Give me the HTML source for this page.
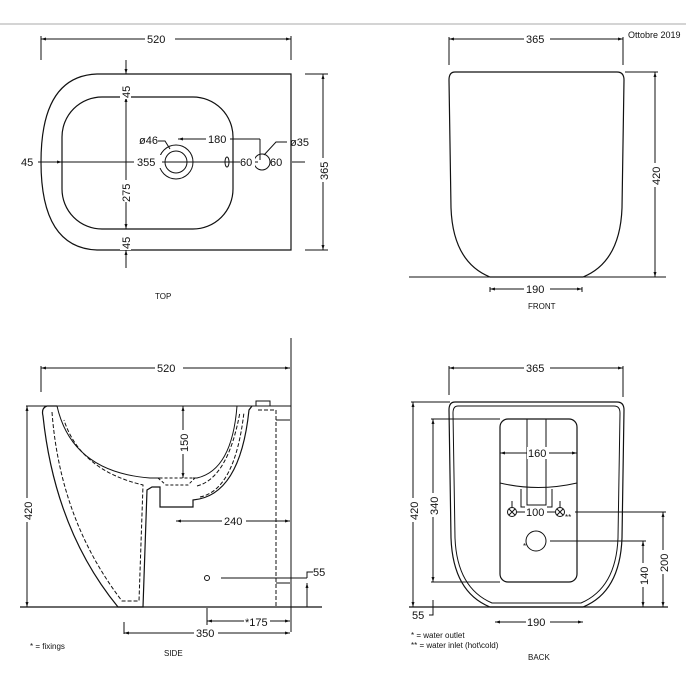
<!DOCTYPE html>
<html><head><meta charset="utf-8"><style>
html,body{margin:0;padding:0;background:#fff}
svg{display:block}
text{font-family:"Liberation Sans",sans-serif;fill:#111}
</style></head><body>
<svg width="700" height="700" viewBox="0 0 700 700" xmlns="http://www.w3.org/2000/svg">
<defs>
<marker id="a" viewBox="0 0 10 10" refX="10" refY="5" markerWidth="7" markerHeight="5" orient="auto-start-reverse"><path d="M0,2 L10,5 L0,8z" fill="#111"/></marker>
</defs>
<line x1="0" y1="24" x2="686" y2="24" stroke="#aaa" stroke-width="1"/>
<text x="628" y="38" font-size="9" fill="#555">Ottobre 2019</text>

<g stroke="#111" fill="none" stroke-width="1">
<!-- TOP VIEW -->
<path d="M291,74 L97,74 Q41,76 41,162 Q41,248 97,250 L291,250 Z" stroke-width="1.2"/>
<rect x="62" y="97" width="171" height="132" rx="40" stroke-width="1.2"/>
<line x1="41" y1="39" x2="291" y2="39" marker-start="url(#a)" marker-end="url(#a)"/>
<line x1="41" y1="36" x2="41" y2="60"/><line x1="291" y1="36" x2="291" y2="60"/>
<line x1="323" y1="74" x2="323" y2="250" marker-start="url(#a)" marker-end="url(#a)"/>
<line x1="305" y1="74" x2="328" y2="74"/><line x1="305" y1="250" x2="328" y2="250"/>
<line x1="38" y1="162" x2="62" y2="162" marker-end="url(#a)"/>
<line x1="62" y1="162" x2="175" y2="162"/>
<line x1="175" y1="162" x2="258" y2="162"/>
<line x1="238" y1="162" x2="250" y2="162" marker-end="url(#a)"/>
<line x1="292" y1="162" x2="305" y2="162"/>
<line x1="126" y1="60" x2="126" y2="74" marker-end="url(#a)"/>
<line x1="126" y1="97" x2="126" y2="229" marker-start="url(#a)" marker-end="url(#a)"/>
<line x1="126" y1="268" x2="126" y2="250" marker-end="url(#a)"/>
<circle cx="176" cy="162" r="17"/><circle cx="176" cy="162" r="11"/>
<circle cx="262" cy="162" r="8"/>
<ellipse cx="227" cy="162" rx="2" ry="5"/>
<line x1="178" y1="139" x2="260" y2="139" marker-start="url(#a)"/>
<line x1="260" y1="139" x2="260" y2="160"/>
<path d="M158,141 L165,141 L170,149"/>
<path d="M287,142 L276,142 L264,155"/>

<!-- FRONT VIEW -->
<path d="M455,72 L617,72 Q624,72 624,80 L622,208 Q620,262 583,277 L490,277 Q453,262 451,208 L449,80 Q449,72 455,72 Z" stroke-width="1.2"/>
<line x1="449" y1="39" x2="623" y2="39" marker-start="url(#a)" marker-end="url(#a)"/>
<line x1="449" y1="37" x2="449" y2="65"/><line x1="623" y1="37" x2="623" y2="65"/>
<line x1="655" y1="72" x2="655" y2="277" marker-start="url(#a)" marker-end="url(#a)"/>
<line x1="625" y1="72" x2="658" y2="72"/>
<line x1="409" y1="277" x2="666" y2="277"/>
<line x1="490" y1="289" x2="582" y2="289" marker-start="url(#a)" marker-end="url(#a)"/>
<line x1="490" y1="287" x2="490" y2="292"/><line x1="582" y1="287" x2="582" y2="292"/>

<!-- SIDE VIEW -->
<line x1="41" y1="368" x2="290" y2="368" marker-start="url(#a)" marker-end="url(#a)"/>
<line x1="41" y1="366" x2="41" y2="392"/>
<line x1="291" y1="338" x2="291" y2="632"/>
<line x1="26" y1="406" x2="291" y2="406"/>
<line x1="20" y1="607" x2="322" y2="607" stroke-width="1.2"/>
<line x1="27" y1="406" x2="27" y2="607" marker-start="url(#a)" marker-end="url(#a)"/>
<path d="M57,406 L47,406 Q41,408 43,416 Q55,530 118,607 L143,607 L147,490 L152,487 L160,487 L160,507 L193,507 L193,500 Q240,496 249,410 L252,406" stroke-width="1.2"/>
<path d="M57,406 Q72,472 150,478 L160,478"/>
<path d="M193,478 L197,478 Q232,470 237,406"/>
<path d="M52,412 Q60,520 122,601 L139,601 L143,485 Q80,470 64,420" stroke-dasharray="4,2"/>
<path d="M158,478 L166,485 L188,485 L195,478 Z" stroke-dasharray="3,2"/>
<path d="M200,497 Q235,490 244,412 M197,486 Q228,478 240,412" stroke-dasharray="4,2"/>
<rect x="256" y="401" width="14" height="5"/>
<path d="M258,410 L276,410 L276,607 L290,607" stroke-dasharray="4,2"/>
<line x1="276" y1="420" x2="290" y2="420"/><line x1="276" y1="583" x2="290" y2="583"/>
<line x1="183" y1="406" x2="183" y2="478" marker-start="url(#a)" marker-end="url(#a)"/>
<line x1="176" y1="521" x2="290" y2="521" marker-start="url(#a)" marker-end="url(#a)"/>
<circle cx="207" cy="578" r="2.5"/>
<line x1="221" y1="578" x2="307" y2="578"/>
<path d="M307,578 L307,572 L313,572"/>
<line x1="307" y1="607" x2="307" y2="583" marker-end="url(#a)"/>
<line x1="207" y1="608" x2="207" y2="625"/>
<line x1="207" y1="621" x2="290" y2="621" marker-start="url(#a)" marker-end="url(#a)"/>
<line x1="124" y1="622" x2="124" y2="634"/>
<line x1="124" y1="633" x2="290" y2="633" marker-start="url(#a)" marker-end="url(#a)"/>

<!-- BACK VIEW -->
<path d="M455,402 L617,402 Q624,402 624,410 L622,538 Q620,592 583,607 L490,607 Q453,592 451,538 L449,410 Q449,402 455,402 Z" stroke-width="1.2"/>
<path d="M458,406 L614,406 Q620,406 620,413 L618,538 Q616,588 581,603 L492,603 Q457,588 455,538 L453,413 Q453,406 458,406 Z"/>
<rect x="500" y="419" width="77" height="163" rx="8" stroke-width="1.2"/>
<path d="M500,483 Q538,492 577,483"/>
<path d="M527,419 L527,505 L546,505 L546,419"/>
<path d="M521,489 L521,507 L552,507 L552,489"/>
<line x1="500" y1="453" x2="577" y2="453" marker-start="url(#a)" marker-end="url(#a)"/>
<circle cx="512" cy="512" r="4.5"/><path d="M509,509 L515,515 M515,509 L509,515 M512,501 L512,508"/>
<circle cx="560" cy="512" r="4.5"/><path d="M557,509 L563,515 M563,509 L557,515 M560,501 L560,508"/>
<line x1="517" y1="512" x2="555" y2="512"/>
<circle cx="536" cy="541" r="10"/>
<line x1="575" y1="512" x2="666" y2="512"/>
<line x1="550" y1="541" x2="646" y2="541"/>
<line x1="643" y1="541" x2="643" y2="607" marker-start="url(#a)" marker-end="url(#a)"/>
<line x1="663" y1="512" x2="663" y2="607" marker-start="url(#a)" marker-end="url(#a)"/>
<line x1="409" y1="607" x2="668" y2="607" stroke-width="1.2"/>
<line x1="413" y1="402" x2="413" y2="607" marker-start="url(#a)" marker-end="url(#a)"/>
<line x1="411" y1="402" x2="450" y2="402"/>
<line x1="433" y1="419" x2="433" y2="582" marker-start="url(#a)" marker-end="url(#a)"/>
<line x1="431" y1="419" x2="500" y2="419"/><line x1="431" y1="582" x2="500" y2="582"/>
<path d="M429,615 L433,615 L433,600"/>
<line x1="449" y1="368" x2="623" y2="368" marker-start="url(#a)" marker-end="url(#a)"/>
<line x1="449" y1="366" x2="449" y2="395"/><line x1="623" y1="366" x2="623" y2="397"/>
<line x1="495" y1="622" x2="583" y2="622" marker-start="url(#a)" marker-end="url(#a)"/>
</g>

<g font-size="11">
<rect x="145" y="32" width="30" height="12" fill="#fff"/><text x="147" y="43">520</text>
<text x="21" y="166">45</text>
<rect x="134" y="155" width="28" height="13" fill="#fff"/><text x="137" y="166">355</text>
<rect x="206" y="132" width="24" height="13" fill="#fff"/><text x="208" y="143">180</text>
<text x="139" y="144">ø46</text>
<text x="290" y="146">ø35</text>
<rect x="240" y="155" width="15" height="13" fill="#fff"/><text x="240" y="166">60</text>
<text x="270" y="166">60</text>
<g transform="translate(130,92) rotate(-90)"><rect x="-7" y="-10" width="14" height="11" fill="#fff"/><text x="-6" y="0">45</text></g>
<g transform="translate(130,192) rotate(-90)"><rect x="-10" y="-10" width="22" height="11" fill="#fff"/><text x="-10" y="0">275</text></g>
<g transform="translate(130,243) rotate(-90)"><rect x="-7" y="-10" width="14" height="11" fill="#fff"/><text x="-6" y="0">45</text></g>
<g transform="translate(328,180) rotate(-90)"><rect x="-2" y="-10" width="24" height="12" fill="#fff"/><text x="0" y="0">365</text></g>
<rect x="524" y="32" width="26" height="12" fill="#fff"/><text x="526" y="43">365</text>
<g transform="translate(660,185) rotate(-90)"><rect x="-2" y="-10" width="24" height="12" fill="#fff"/><text x="0" y="0">420</text></g>
<rect x="524" y="283" width="26" height="12" fill="#fff"/><text x="526" y="293">190</text>
<rect x="155" y="362" width="28" height="12" fill="#fff"/><text x="157" y="372">520</text>
<g transform="translate(32,520) rotate(-90)"><rect x="-2" y="-10" width="24" height="12" fill="#fff"/><text x="0" y="0">420</text></g>
<g transform="translate(188,452) rotate(-90)"><rect x="-2" y="-10" width="24" height="12" fill="#fff"/><text x="0" y="0">150</text></g>
<rect x="222" y="515" width="24" height="12" fill="#fff"/><text x="224" y="525">240</text>
<text x="313" y="576">55</text>
<rect x="244" y="615" width="26" height="12" fill="#fff"/><text x="245" y="626">*175</text>
<rect x="194" y="627" width="24" height="12" fill="#fff"/><text x="196" y="637">350</text>
<rect x="524" y="362" width="26" height="12" fill="#fff"/><text x="526" y="372">365</text>
<rect x="527" y="447" width="22" height="12" fill="#fff"/><text x="528" y="457">160</text>
<rect x="525" y="506" width="22" height="12" fill="#fff"/><text x="526" y="516">100</text>
<g transform="translate(418,520) rotate(-90)"><rect x="-2" y="-10" width="24" height="12" fill="#fff"/><text x="0" y="0">420</text></g>
<g transform="translate(438,515) rotate(-90)"><rect x="-2" y="-10" width="24" height="12" fill="#fff"/><text x="0" y="0">340</text></g>
<g transform="translate(648,585) rotate(-90)"><rect x="-2" y="-10" width="24" height="12" fill="#fff"/><text x="0" y="0">140</text></g>
<g transform="translate(668,572) rotate(-90)"><rect x="-2" y="-10" width="24" height="12" fill="#fff"/><text x="0" y="0">200</text></g>
<text x="412" y="619">55</text>
<rect x="526" y="616" width="24" height="12" fill="#fff"/><text x="527" y="626">190</text>
</g>
<g font-size="8">
<text x="155" y="299">TOP</text>
<text x="528" y="309">FRONT</text>
<text x="164" y="656">SIDE</text>
<text x="528" y="660">BACK</text>
<text x="30" y="649">*  =  fixings</text>
<text x="411" y="638">*  =  water outlet</text>
<text x="411" y="648">**  =  water inlet (hot\cold)</text>
<text x="565" y="520">**</text>
<text x="523" y="549">*</text>
</g>
</svg>
</body></html>
